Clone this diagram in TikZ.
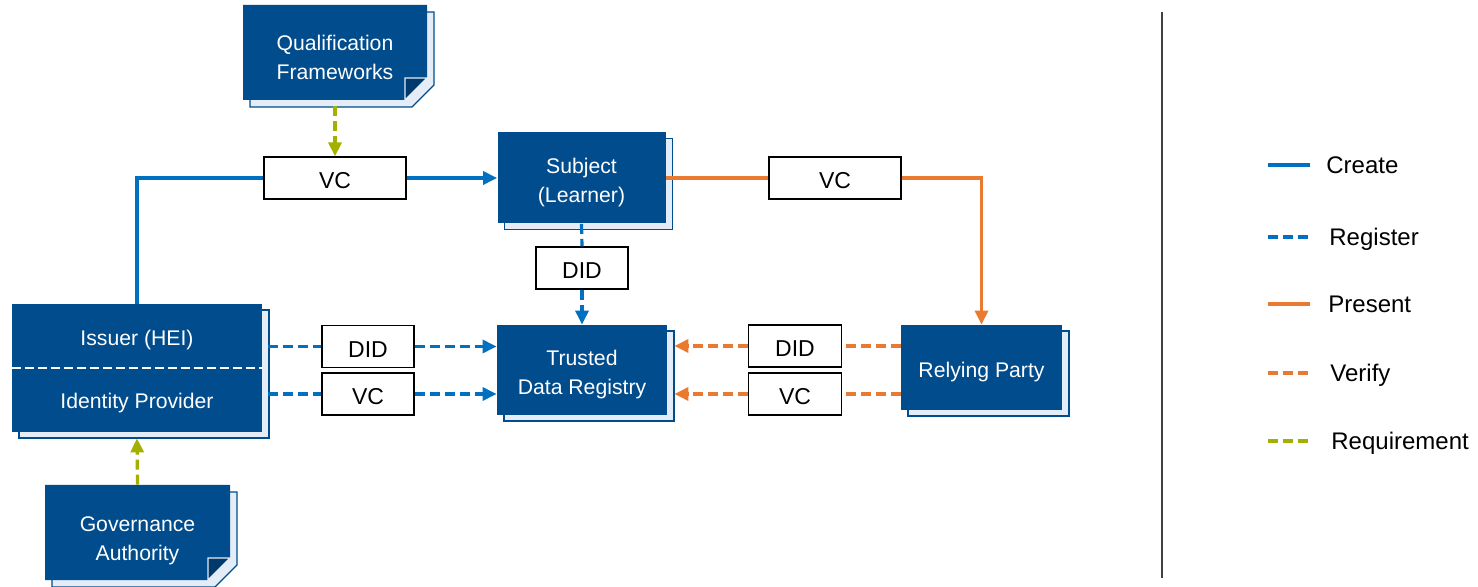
\documentclass[tikz,border=0pt]{standalone}
\usepackage{fontspec}
\setmainfont{Liberation Sans}
\usepackage{tikz}
\usetikzlibrary{arrows.meta,shadows,calc}

\definecolor{boxblue}{HTML}{004C8C}
\definecolor{folddark}{HTML}{003A6C}
\definecolor{shadowfill}{HTML}{E4EDF7}
\definecolor{lineblue}{HTML}{0070C0}
\definecolor{lineorange}{HTML}{E97A30}
\definecolor{lineolive}{HTML}{A4B000}

\tikzset{
    boxnode/.style={fill=boxblue, inner sep=0pt,
        copy shadow={shadow xshift=3.5pt, shadow yshift=-3pt, fill=shadowfill, draw=boxblue, line width=0.6pt}},
    doctext/.style={text=white, align=center, inner sep=0pt, font=\fontsize{10.6}{14.5}\selectfont},
    lblnode/.style={draw=black, fill=white, line width=0.6pt, minimum height=21pt, inner sep=0pt,
        text height=12pt, text depth=1.3pt, font=\fontsize{11.5}{13}\selectfont},
    lgtext/.style={anchor=west, inner sep=0pt, text height=9pt, text depth=2.5pt,
        font=\fontsize{12}{14}\selectfont},
    conn/.style={line width=1.6pt},
    createline/.style={conn, lineblue},
    registerline/.style={conn, lineblue, dash pattern=on 5pt off 2.5pt},
    presentline/.style={conn, lineorange},
    verifyline/.style={conn, lineorange, dash pattern=on 5pt off 2.5pt},
    reqline/.style={conn, lineolive, dash pattern=on 5pt off 2.5pt},
    arrowend/.style={-{Triangle[length=7pt,width=6.5pt]}},
}

% document shape: x1 y1 x2 y2 (pixels)
\newcommand{\docshape}[4]{%
    \filldraw[fill=shadowfill, draw=boxblue, line width=0.6pt] (#1+7,#2+7) -- (#3+7,#2+7) -- (#3+7,#4-15) -- (#3-15,#4+7) -- (#1+7,#4+7) -- cycle;
    \fill[boxblue] (#1,#2) -- (#3,#2) -- (#3,#4-22) -- (#3-22,#4) -- (#1,#4) -- cycle;
    \filldraw[fill=folddark, draw=shadowfill, line width=0.6pt] (#3-22,#4-22) -- (#3,#4-22) -- (#3-22,#4) -- cycle;
}

\begin{document}
\begin{tikzpicture}[x=0.5pt, y=-0.5pt]
    \useasboundingbox (0,0) rectangle (1478,587);

    \docshape{243}{5}{427}{100}
    \node[doctext, minimum width=92pt, minimum height=47.5pt] (qf) at (335,52.5) {};
    \node[doctext] (qftext) at ($(qf)+(0,-2.5pt)$) {Qualification\\Frameworks};

    \docshape{45}{485}{230}{580}
    \node[doctext, minimum width=92.5pt, minimum height=47.5pt] (ga) at (137.5,532.5) {};
    \node[doctext] (gatext) at ($(ga)+(0,-4pt)$) {Governance\\Authority};

    \node[boxnode, minimum width=84pt, minimum height=45.5pt] (subj) at (581.5,178) {};
    \node[doctext] (subjtext) at ($(subj)+(0,-2.5pt)$) {Subject\\(Learner)};
    \node[boxnode, minimum width=85pt, minimum height=45pt] (tdr) at (582,370) {};
    \node[doctext] (tdrtext) at ($(tdr)+(0,-2.5pt)$) {Trusted\\Data Registry};
    \node[boxnode, minimum width=80.5pt, minimum height=42.5pt] (rp) at (981.5,367.5) {};
    \node[doctext] (rptext) at ($(rp)+(0,-2.5pt)$) {Relying Party};
    \node[boxnode, minimum width=125pt, minimum height=64pt] (iss) at (137,368) {};
    \node[doctext] (issa) at (137,340) {Issuer (HEI)};
    \node[doctext] (issb) at (137,403) {Identity Provider};
    \draw[white, line width=1.2pt, dash pattern=on 4.5pt off 2pt] (iss.west) -- (iss.east);

    \node[lblnode, minimum width=71pt] (vc1) at (335,178) {VC};
    \node[lblnode, minimum width=66pt] (vc2) at (835,178) {VC};
    \node[lblnode, minimum width=46pt] (did0) at (582,268) {DID};
    \node[lblnode, minimum width=46pt] (did1) at (368,346.5) {DID};
    \node[lblnode, minimum width=46pt] (vc3) at (368,394) {VC};
    \node[lblnode, minimum width=46.5pt] (did2) at (795,346) {DID};
    \node[lblnode, minimum width=46.5pt] (vc4) at (795,394) {VC};

    \draw[createline] (iss.north) |- (vc1.west);
    \draw[createline, arrowend] (vc1.east) -- (subj.west);
    \draw[presentline] (subj.east) -- (vc2.west);
    \draw[presentline, arrowend] (vc2.east) -| (rp.north);

    \draw[registerline] (subj.south) -- (did0.north);
    \draw[registerline, arrowend] (did0.south) -- (tdr.north);
    \draw[registerline] ($(iss.east |- did1.west)+(3pt,0)$) -- (did1.west);
    \draw[registerline, arrowend] (did1.east) -- (did1.east -| tdr.west);
    \draw[registerline] ($(iss.east |- vc3.west)+(3pt,0)$) -- (vc3.west);
    \draw[registerline, arrowend] (vc3.east) -- (vc3.east -| tdr.west);

    \draw[verifyline] (rp.west |- did2.east) -- (did2.east);
    \draw[verifyline, arrowend] (did2.west) -- ($(did2.west -| tdr.east)+(3.5pt,0)$);
    \draw[verifyline] (rp.west |- vc4.east) -- (vc4.east);
    \draw[verifyline, arrowend] (vc4.west) -- ($(vc4.west -| tdr.east)+(3.5pt,0)$);

    \draw[reqline, arrowend] ($(qf.south)+(0,-3pt)$) -- (vc1.north);
    \draw[reqline, arrowend] (ga.north) -- ($(iss.south)+(0,-3pt)$);

    % legend
    \draw[black!75, line width=0.6pt] (1162,12) -- (1162,578);
    \foreach \ypos/\sty/\txt/\dx in {165/createline/Create/0, 237/registerline/Register/3,
        304/presentline/Present/2, 373/verifyline/Verify/4, 441/reqline/Requirement/5} {
        \draw[\sty] (1268,\ypos) -- (1310,\ypos);
        \node[lgtext] (lg\txt) at (1326+\dx,\ypos+2) {\txt};
    }
\end{tikzpicture}
\end{document}
